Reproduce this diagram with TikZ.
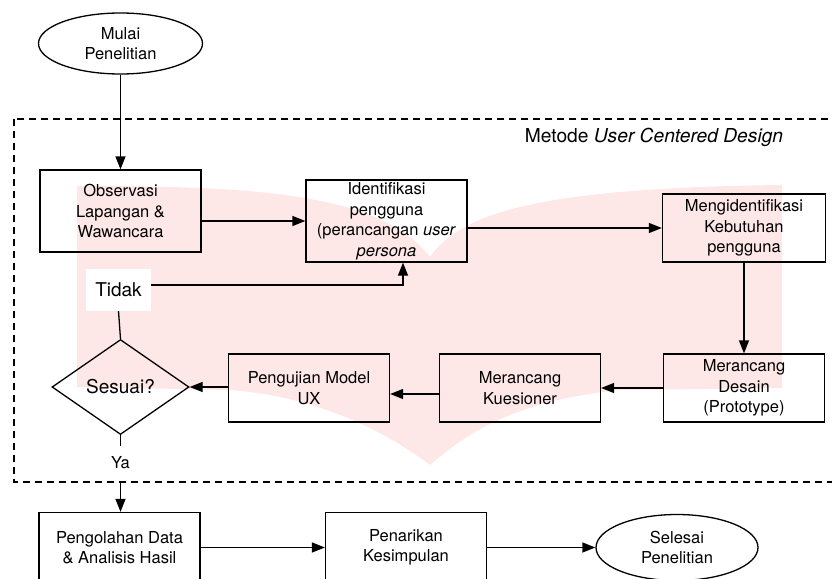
\documentclass[tikz,border=0pt]{standalone}
\usepackage{fontspec}
\setmainfont{TeX Gyre Heros}
\usetikzlibrary{shapes.geometric,arrows.meta}
\definecolor{pinkbg}{RGB}{254,231,231}
\begin{document}
\begin{tikzpicture}[x=1pt,y=-1pt,
  every node/.style={font=\fontsize{16.5}{20.5}\selectfont},
  big/.style={font=\fontsize{19}{22}\selectfont},
  box/.style={draw, line width=1.3pt, align=center, inner sep=0pt, minimum width=161pt},
  term/.style={draw, ellipse, line width=1.3pt, align=center, inner sep=0pt, minimum width=164pt, minimum height=61pt},
  dia/.style={draw, diamond, line width=1.3pt, inner sep=0pt, minimum width=137pt, minimum height=95pt},
  conn/.style={line width=1.3pt},
  arr/.style={line width=1.3pt, -{Triangle[length=13pt,width=10pt]}}]
\useasboundingbox (0,0) rectangle (832,578);
\clip (0,0) rectangle (832,578);
% background watermark shape
\fill[pinkbg] (77,186) .. controls (250,186) and (380,192) .. (430,257)
  .. controls (460,215) and (530,188) .. (782,185) -- (782,388) -- (620,390)
  .. controls (520,400) and (470,430) .. (430,465)
  .. controls (370,420) and (300,395) .. (230,390) -- (77,387) -- cycle;
% dashed frame
\draw[line width=1.3pt, dash pattern=on 7pt off 5pt] (14,119) rectangle (850,482);
\node[font=\fontsize{19.2}{22}\selectfont] (title) at (654,137) {Metode \textit{User Centered Design}};
% nodes
\node[term] (start) at (120.5,43.5) {Mulai\\Penelitian};
\node[box, minimum height=82pt] (obs) at (120.5,211) {Observasi\\Lapangan \&\\Wawancara};
\node[box, minimum height=82pt] (iden) at (386.5,221) {Identifikasi\\pengguna\\(perancangan \textit{user}\\\textit{persona}};
\node[box, minimum width=163pt, minimum height=68pt] (meng) at (744,228) {Mengidentifikasi\\Kebutuhan\\pengguna};
\node[box, minimum height=68pt] (des) at (744,388) {Merancang\\Desain\\(Prototype)};
\node[box, minimum height=68pt] (kues) at (520,388) {Merancang\\Kuesioner};
\node[box, minimum height=68pt] (uji) at (309,388) {Pengujian Model\\UX};
\node[dia, big] (dec) at (120.5,387) {Sesuai?};
\node[fill=white, big, minimum width=65pt, minimum height=42pt, inner sep=0pt] (tidak) at (118.5,290) {Tidak};
\node (ya) at (120.5,463) {Ya};
\node[box, minimum height=70pt] (olah) at (119.5,547.5) {Pengolahan Data\\\& Analisis Hasil};
\node[box, minimum height=70pt] (tarik) at (406,547.5) {Penarikan\\Kesimpulan};
\node[term, minimum width=162pt, minimum height=66pt] (end) at (677,547.5) {Selesai\\Penelitian};
\coordinate (yaend) at (120.5,446);
\coordinate (exit) at (120.5,483);
% connectors
\draw[arr] (start) -- (obs);
\draw[arr] (obs.east |- iden.west) -- (iden.west);
\draw[arr] (iden.east |- meng.west) -- (meng.west);
\draw[arr] (meng) -- (des);
\draw[arr] (des) -- (kues);
\draw[arr] ([yshift=-6pt]kues.west) -- ([yshift=-6pt]uji.east);
\draw[arr] (uji.west |- dec.east) -- (dec.east);
\draw[conn] (dec.south) -- (yaend);
\draw[conn] (tidak.south) -- (dec.north);
\draw[arr] ([yshift=5pt]tidak.east) -| ([xshift=16.5pt]iden.south);
\draw[arr] (exit) -- (exit |- olah.north);
\draw[arr] (olah) -- (tarik);
\draw[arr] (tarik) -- (end);
\end{tikzpicture}
\end{document}
